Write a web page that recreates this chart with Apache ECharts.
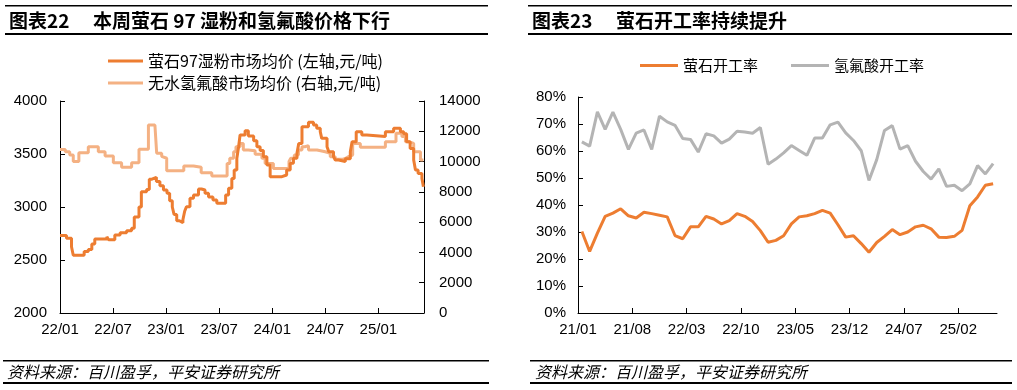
<!DOCTYPE html>
<html><head><meta charset="utf-8">
<script src="https://cdn.jsdelivr.net/npm/echarts@6/dist/echarts.min.js"></script>
<style>html,body{margin:0;padding:0;background:#fff}#c{width:1017px;height:390px}</style>
</head><body><div id="c"></div>
<script>
// ---- Left chart: weekly prices (change points) ----
const fluoriteDates = ['2022-01-01','2022-01-23','2022-02-10','2022-02-16','2022-03-23','2022-04-07','2022-04-19','2022-04-29','2022-06-10','2022-06-16',
  '2022-07-07','2022-07-25','2022-08-17','2022-09-04','2022-09-13','2022-09-29','2022-10-07','2022-10-25','2022-11-04','2022-11-13',
  '2022-11-28','2022-12-10','2022-12-22','2023-01-04','2023-01-13','2023-01-22','2023-01-28','2023-02-07','2023-02-16','2023-02-28',
  '2023-03-04','2023-03-10','2023-03-22','2023-04-04','2023-04-21','2023-05-01','2023-05-13','2023-05-25','2023-06-10','2023-06-23',
  '2023-07-23','2023-08-03','2023-08-14','2023-08-22','2023-09-01','2023-09-07','2023-09-12','2023-09-29','2023-10-10','2023-10-28',
  '2023-11-09','2023-11-20','2023-12-01','2023-12-13','2023-12-24','2024-02-04','2024-02-20','2024-03-02','2024-03-13','2024-03-25',
  '2024-04-01','2024-04-12','2024-05-04','2024-05-21','2024-06-02','2024-06-14','2024-06-19','2024-07-07','2024-07-13','2024-07-29',
  '2024-08-05','2024-08-16','2024-09-09','2024-09-26','2024-10-02','2024-10-16','2024-11-05','2024-11-22','2025-01-25','2025-02-23',
  '2025-03-16','2025-03-27','2025-04-07','2025-04-19','2025-05-01','2025-05-07','2025-05-16','2025-05-29','2025-06-04'];
const fluoritePrice = [2730,2705,2625,2545,2580,2600,2650,2698,2720,2690,
  2735,2757,2776,2800,2905,3000,3145,3165,3262,3280,
  3240,3200,3160,3130,3060,3000,2930,2870,2852,2880,
  2960,3003,3082,3113,3170,3160,3130,3094,3066,3035,
  3113,3176,3270,3349,3459,3569,3679,3720,3670,3626,
  3569,3533,3475,3396,3286,3302,3349,3412,3459,3506,
  3600,3758,3799,3774,3742,3711,3648,3569,3522,3475,
  3443,3430,3455,3522,3616,3711,3679,3664,3711,3742,
  3711,3690,3616,3553,3443,3349,3317,3270,3192];
const hfDates = ['2022-01-01','2022-01-19','2022-02-04','2022-02-16','2022-03-05','2022-04-07','2022-05-11','2022-06-04','2022-07-02','2022-07-30',
  '2022-09-04','2022-09-29','2022-11-01','2022-11-23','2022-11-29','2022-12-16','2022-12-22','2023-01-03','2023-03-01','2023-04-04',
  '2023-04-30','2023-06-06','2023-07-28','2023-08-07','2023-08-20','2023-08-28','2023-09-12','2023-09-23','2023-10-10','2023-11-03',
  '2023-11-26','2023-12-07','2024-01-05','2024-02-28','2024-03-04','2024-03-16','2024-03-30','2024-04-12','2024-04-22','2024-05-04',
  '2024-06-03','2024-07-01','2024-07-18','2024-08-05','2024-09-01','2024-09-09','2024-09-19','2024-10-04','2024-10-30','2025-01-25',
  '2025-03-01','2025-03-21','2025-04-03','2025-04-14','2025-05-01','2025-05-24','2025-06-04'];
const hfPrice = [10800,10650,10430,10000,10590,10980,10650,10370,9930,9620,
  9930,10810,12415,12300,10550,10350,10220,9400,9710,9620,
  9270,9050,9880,10220,10650,10980,11200,10770,10720,10480,
  10220,9880,9550,10000,10220,10430,10770,10980,11050,10770,
  10650,10550,10320,10150,10200,10320,10430,11200,10940,11310,
  11870,11650,11310,11200,10650,10100,10100];
const leftStart = 2022;          // x axis counted in months from 2022-01
const leftEnd = '2025-06-06';

// ---- Right chart: monthly operating rates, 2021-01 .. 2025-06 ----
const rateStart = 2021;
const fluoriteRate = [30.2,22.8,29.6,35.8,37.0,38.6,36.0,35.2,37.3,36.8,
  36.2,35.6,28.7,27.5,31.9,31.9,35.8,34.8,33.0,34.2,
  36.8,35.8,33.9,30.5,26.2,26.9,28.6,33.0,35.6,36.0,
  36.8,38.0,37.0,32.7,28.1,28.6,25.7,22.5,26.1,28.4,
  30.9,29.0,30.0,31.9,32.5,31.2,28.1,28.0,28.4,30.6,
  39.7,43.0,47.3,47.9];
const hfRate = [63.4,61.8,74.5,68.0,74.4,68.0,60.6,66.6,67.8,60.6,
  72.9,70.8,69.5,64.6,64.3,59.6,66.4,65.6,62.9,64.4,
  67.3,67.0,66.6,68.7,55.1,57.0,59.3,62.0,60.2,58.4,
  64.8,64.8,69.7,70.7,66.7,63.9,60.1,49.1,56.8,67.6,
  69.4,60.7,62.0,56.2,52.4,49.6,53.4,46.9,47.3,45.3,
  47.8,54.6,51.5,55.3];

const C_DARK = '#ED7D31', C_LIGHT = '#F4B183', C_GRAY = '#B4B4B4';
const FONT = "'Liberation Sans','Noto Sans CJK SC',sans-serif";
const CJK = "'Noto Sans CJK SC','Liberation Sans',sans-serif";

function monthPos(s, y0) {
  const p = s.split('-').map(Number);
  return (p[0] - y0) * 12 + (p[1] - 1) + (p[2] - 1) / 30;
}
function monthLabel(v, y0) {
  const y = y0 + Math.floor(v / 12), m = v % 12 + 1;
  return String(y).slice(2) + '/' + (m < 10 ? '0' + m : m);
}
const fluoriteData = fluoriteDates.map((d, i) => [monthPos(d, leftStart), fluoritePrice[i]]);
const hfData = hfDates.map((d, i) => [monthPos(d, leftStart), hfPrice[i]]);
const fluoriteRateData = fluoriteRate.map((v, i) => [i + 0.5, v]);
const hfRateData = hfRate.map((v, i) => [i + 0.5, v]);

const axisLine = { show: true, lineStyle: { color: '#000', width: 1 } };
const tick = { show: true, inside: true, length: 5, lineStyle: { color: '#000' } };
const lbl = { color: '#000', fontSize: 15, fontFamily: FONT };
const plain = v => String(v);

const chart = echarts.init(document.getElementById('c'), null, { renderer: 'canvas' });
chart.setOption({
  animation: false,
  backgroundColor: '#fff',
  grid: [
    { left: 60, right: 593, top: 101, bottom: 77 },
    { left: 578, right: 20, top: 97, bottom: 77 }
  ],
  xAxis: [
    { type: 'value', gridIndex: 0, min: 0, max: monthPos(leftEnd, leftStart), interval: 6,
      axisLine, axisTick: tick, splitLine: { show: false },
      axisLabel: Object.assign({}, lbl, { margin: 9, showMaxLabel: false, formatter: v => monthLabel(v, leftStart) }) },
    { type: 'value', gridIndex: 1, min: 0, max: 54, interval: 7,
      axisLine, axisTick: tick, splitLine: { show: false },
      axisLabel: Object.assign({}, lbl, { margin: 9, showMaxLabel: false, formatter: v => (v % 7 === 0 && v < 54) ? monthLabel(v, rateStart) : '' }) }
  ],
  yAxis: [
    { type: 'value', gridIndex: 0, min: 2000, max: 4000, interval: 500, position: 'left',
      axisLine, axisTick: tick, splitLine: { show: false }, axisLabel: Object.assign({}, lbl, { margin: 13, formatter: plain }) },
    { type: 'value', gridIndex: 0, min: 0, max: 14000, interval: 2000, position: 'right',
      axisLine, axisTick: tick, splitLine: { show: false }, axisLabel: Object.assign({}, lbl, { margin: 15, formatter: plain }) },
    { type: 'value', gridIndex: 1, min: 0, max: 80, interval: 10,
      axisLine, axisTick: tick, splitLine: { show: false }, axisLabel: Object.assign({}, lbl, { margin: 12, formatter: '{value}%' }) }
  ],
  legend: [
    { orient: 'vertical', left: 103, top: 48, itemWidth: 35, itemHeight: 3, itemGap: 6, icon: 'rect',
      textStyle: { fontSize: 16, color: '#000', fontFamily: CJK, lineHeight: 16 },
      data: ['萤石97湿粉市场均价 (左轴,元/吨)', '无水氢氟酸市场均价 (右轴,元/吨)'] },
    { orient: 'horizontal', left: 635, top: 53, itemWidth: 38, itemHeight: 3, itemGap: 33, icon: 'rect',
      textStyle: { fontSize: 15, color: '#000', fontFamily: CJK },
      data: ['萤石开工率', '氢氟酸开工率'] }
  ],
  series: [
    { name: '无水氢氟酸市场均价 (右轴,元/吨)', type: 'line', xAxisIndex: 0, yAxisIndex: 1, data: hfData, step: 'end',
      showSymbol: false, lineStyle: { color: C_LIGHT, width: 3 }, itemStyle: { color: C_LIGHT } },
    { name: '萤石97湿粉市场均价 (左轴,元/吨)', type: 'line', xAxisIndex: 0, yAxisIndex: 0, data: fluoriteData, step: 'end',
      showSymbol: false, lineStyle: { color: C_DARK, width: 3 }, itemStyle: { color: C_DARK } },
    { name: '萤石开工率', type: 'line', xAxisIndex: 1, yAxisIndex: 2, data: fluoriteRateData,
      showSymbol: false, lineStyle: { color: C_DARK, width: 3 }, itemStyle: { color: C_DARK } },
    { name: '氢氟酸开工率', type: 'line', xAxisIndex: 1, yAxisIndex: 2, data: hfRateData,
      showSymbol: false, lineStyle: { color: C_GRAY, width: 3 }, itemStyle: { color: C_GRAY } }
  ],
  graphic: [
    { type: 'rect', shape: { x: 5, y: 5, width: 483, height: 1.5 }, style: { fill: '#000' } },
    { type: 'rect', shape: { x: 5, y: 33, width: 483, height: 2 }, style: { fill: '#000' } },
    { type: 'rect', shape: { x: 528, y: 5, width: 484, height: 1.5 }, style: { fill: '#000' } },
    { type: 'rect', shape: { x: 528, y: 33, width: 484, height: 2 }, style: { fill: '#000' } },
    { type: 'text', left: 9, top: 11, style: { text: '图表22', fontSize: 19, fontWeight: 'bold', fontFamily: CJK, fill: '#000' } },
    { type: 'text', left: 93, top: 11, style: { text: '本周萤石 97 湿粉和氢氟酸价格下行', fontSize: 19, fontWeight: 'bold', fontFamily: CJK, fill: '#000' } },
    { type: 'text', left: 532, top: 11, style: { text: '图表23', fontSize: 19, fontWeight: 'bold', fontFamily: CJK, fill: '#000' } },
    { type: 'text', left: 616, top: 11, style: { text: '萤石开工率持续提升', fontSize: 19, fontWeight: 'bold', fontFamily: CJK, fill: '#000' } },
    { type: 'rect', shape: { x: 3, y: 360, width: 486, height: 1.5 }, style: { fill: '#000' } },
    { type: 'rect', shape: { x: 3, y: 382, width: 486, height: 2 }, style: { fill: '#000' } },
    { type: 'rect', shape: { x: 530, y: 360, width: 482, height: 1.5 }, style: { fill: '#000' } },
    { type: 'rect', shape: { x: 530, y: 382, width: 482, height: 2 }, style: { fill: '#000' } },
    { type: 'text', left: 7, top: 364, style: { text: '资料来源：百川盈孚，平安证券研究所', fontSize: 16, fontStyle: 'italic', fontFamily: CJK, fill: '#000' } },
    { type: 'text', left: 535, top: 364, style: { text: '资料来源：百川盈孚，平安证券研究所', fontSize: 16, fontStyle: 'italic', fontFamily: CJK, fill: '#000' } }
  ]
});
</script></body></html>
